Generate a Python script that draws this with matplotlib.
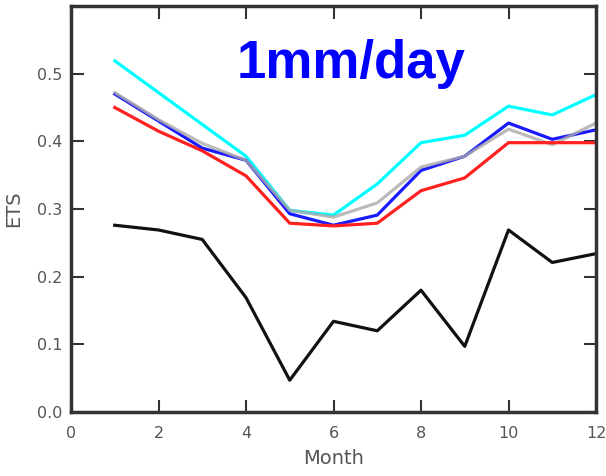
import matplotlib
matplotlib.use("Agg")
import matplotlib.pyplot as plt

months = [1, 2, 3, 4, 5, 6, 7, 8, 9, 10, 11, 12]
black = [0.276, 0.269, 0.255, 0.169, 0.047, 0.134, 0.120, 0.180, 0.097, 0.269, 0.221, 0.234]
cyan = [0.519, 0.472, 0.425, 0.378, 0.298, 0.291, 0.337, 0.398, 0.409, 0.452, 0.439, 0.469]
blue = [0.470, 0.430, 0.390, 0.372, 0.293, 0.276, 0.291, 0.357, 0.378, 0.427, 0.403, 0.417]
gray = [0.472, 0.432, 0.397, 0.372, 0.298, 0.288, 0.309, 0.362, 0.378, 0.418, 0.395, 0.427]
red = [0.450, 0.415, 0.386, 0.349, 0.279, 0.275, 0.279, 0.327, 0.346, 0.398, 0.398, 0.398]

xticks = [0, 2, 4, 6, 8, 10, 12]
yticks = [0.0, 0.1, 0.2, 0.3, 0.4, 0.5]

fig = plt.figure(figsize=(6.06, 4.76), dpi=100)
ax = fig.add_axes([71/606, 1-412/476, (596-71)/606, (412-6)/476])

lw = 2.3
ax.plot(months, black, color="#111111", lw=lw)
ax.plot(months, cyan, color="#00ffff", lw=lw)
ax.plot(months, blue, color="#1a1aff", lw=lw)
ax.plot(months, gray, color="#aaaaaa", lw=lw, alpha=0.8)
ax.plot(months, red, color="#ff2020", lw=lw)

ax.set_xlim(0, 12)
ax.set_ylim(0, 0.6)
ax.set_xticks(xticks)
ax.set_yticks(yticks)
ax.set_xticklabels([str(t) for t in xticks])
ax.set_yticklabels([f"{t:.1f}" for t in yticks])

for s in ax.spines.values():
    s.set_linewidth(2.5)
    s.set_color("#333333")
ax.tick_params(direction="in", length=9, width=1.5, color="#333333",
               top=True, right=True, labelsize=11.5, labelcolor="#555555")
ax.tick_params(axis="x", pad=10)
ax.tick_params(axis="y", pad=6)

ax.set_xlabel("Month", fontsize=14, color="#555555", labelpad=6)
ax.set_ylabel("ETS", fontsize=14, color="#555555", labelpad=10)

fig.text(237/606, 1-78/476, "1mm/day", family="Liberation Sans", weight="bold",
         fontsize=38, color="#0000ff", ha="left", va="baseline")

fig.savefig("out.png", dpi=100)
